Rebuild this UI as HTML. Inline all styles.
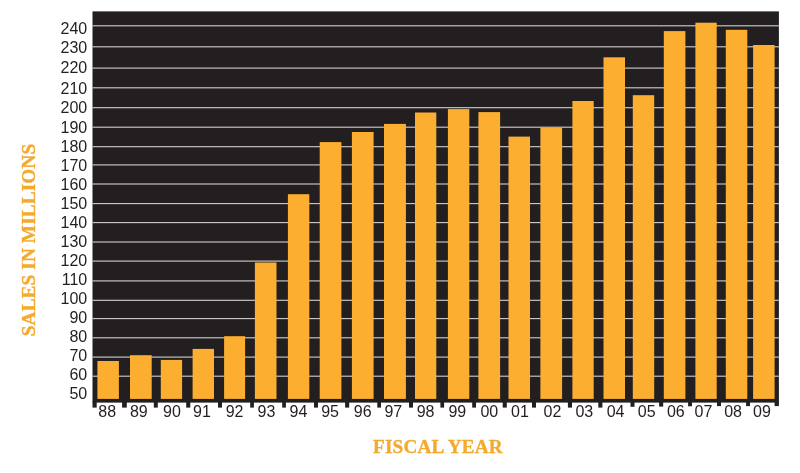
<!DOCTYPE html>
<html lang="en"><head><meta charset="utf-8"><title>Sales in Millions by Fiscal Year</title>
<style>html,body{margin:0;padding:0;background:#fff}body{width:800px;height:473px;overflow:hidden}svg{display:block}.n{font-family:"Liberation Sans",sans-serif;font-size:16px;fill:#231f20}.t{font-family:"Liberation Serif",serif;font-weight:bold;fill:#f4aa2e;stroke:#f4aa2e;stroke-width:0.35px;letter-spacing:0.17px}</style></head><body>
<svg width="800" height="473" viewBox="0 0 800 473">
<rect x="0" y="0" width="800" height="473" fill="#fff"/>
<rect x="92.5" y="11.4" width="686.4" height="391.2" fill="#231f20"/>
<rect x="92.5" y="401.6" width="4.2" height="6" fill="#231f20"/>
<rect x="122.1" y="401.6" width="4.7" height="6" fill="#231f20"/>
<rect x="153.8" y="401.6" width="4" height="6" fill="#231f20"/>
<rect x="186.2" y="401.6" width="4.1" height="6" fill="#231f20"/>
<rect x="218" y="401.6" width="4" height="6" fill="#231f20"/>
<rect x="250.2" y="401.6" width="3.7" height="6" fill="#231f20"/>
<rect x="282.2" y="401.6" width="3.7" height="6" fill="#231f20"/>
<rect x="314" y="401.6" width="4" height="6" fill="#231f20"/>
<rect x="345.1" y="401.6" width="4.1" height="6" fill="#231f20"/>
<rect x="377.3" y="401.6" width="3.7" height="6" fill="#231f20"/>
<rect x="409" y="401.6" width="4" height="6" fill="#231f20"/>
<rect x="440.4" y="401.6" width="3.7" height="6" fill="#231f20"/>
<rect x="472.2" y="401.6" width="3.8" height="6" fill="#231f20"/>
<rect x="502.7" y="401.6" width="4.1" height="6" fill="#231f20"/>
<rect x="532" y="401.6" width="4" height="6" fill="#231f20"/>
<rect x="567.9" y="401.6" width="4.1" height="6" fill="#231f20"/>
<rect x="598.3" y="401.6" width="4.1" height="6" fill="#231f20"/>
<rect x="630.5" y="401.6" width="4" height="5.2" fill="#231f20"/>
<rect x="659.1" y="401.6" width="4.1" height="5" fill="#231f20"/>
<rect x="688.1" y="401.6" width="3.9" height="4.7" fill="#231f20"/>
<rect x="717" y="401.6" width="4" height="4.5" fill="#231f20"/>
<rect x="746.1" y="401.6" width="3.9" height="4.5" fill="#231f20"/>
<rect x="774.6" y="401.6" width="4.3" height="4.5" fill="#231f20"/>
<rect x="92.5" y="25.25" width="686.4" height="1.1" fill="#d0cecf"/>
<rect x="92.5" y="46.25" width="686.4" height="1.1" fill="#d0cecf"/>
<rect x="92.5" y="67.55" width="686.4" height="1.1" fill="#d0cecf"/>
<rect x="92.5" y="87.25" width="686.4" height="1.1" fill="#d0cecf"/>
<rect x="92.5" y="107.15" width="686.4" height="1.1" fill="#d0cecf"/>
<rect x="92.5" y="126.65" width="686.4" height="1.1" fill="#d0cecf"/>
<rect x="92.5" y="146.15" width="686.4" height="1.1" fill="#d0cecf"/>
<rect x="92.5" y="164.35" width="686.4" height="1.1" fill="#d0cecf"/>
<rect x="92.5" y="183.45" width="686.4" height="1.1" fill="#d0cecf"/>
<rect x="92.5" y="203.05" width="686.4" height="1.1" fill="#d0cecf"/>
<rect x="92.5" y="222.05" width="686.4" height="1.1" fill="#d0cecf"/>
<rect x="92.5" y="241.45" width="686.4" height="1.1" fill="#d0cecf"/>
<rect x="92.5" y="260.55" width="686.4" height="1.1" fill="#d0cecf"/>
<rect x="92.5" y="280.35" width="686.4" height="1.1" fill="#d0cecf"/>
<rect x="92.5" y="299.75" width="686.4" height="1.1" fill="#d0cecf"/>
<rect x="92.5" y="318.05" width="686.4" height="1.1" fill="#d0cecf"/>
<rect x="92.5" y="337.25" width="686.4" height="1.1" fill="#d0cecf"/>
<rect x="92.5" y="356.55" width="686.4" height="1.1" fill="#d0cecf"/>
<rect x="92.5" y="375.65" width="686.4" height="1.1" fill="#d0cecf"/>
<rect x="97.4" y="361" width="21.5" height="37.9" fill="#fbae30"/>
<rect x="130" y="355.2" width="21.7" height="43.7" fill="#fbae30"/>
<rect x="160.8" y="359.9" width="21.3" height="39" fill="#fbae30"/>
<rect x="192.6" y="348.9" width="21.4" height="50" fill="#fbae30"/>
<rect x="224.1" y="336.2" width="21" height="62.7" fill="#fbae30"/>
<rect x="254.9" y="262.5" width="21.6" height="136.4" fill="#fbae30"/>
<rect x="287.9" y="194.2" width="21.4" height="204.7" fill="#fbae30"/>
<rect x="319.7" y="142.1" width="21.7" height="256.8" fill="#fbae30"/>
<rect x="351.9" y="132" width="21.7" height="266.9" fill="#fbae30"/>
<rect x="384" y="123.9" width="21.9" height="275" fill="#fbae30"/>
<rect x="415" y="112.5" width="21.3" height="286.4" fill="#fbae30"/>
<rect x="447.9" y="109.1" width="21.4" height="289.8" fill="#fbae30"/>
<rect x="478.4" y="112.1" width="21.7" height="286.8" fill="#fbae30"/>
<rect x="508.5" y="136.6" width="21.5" height="262.3" fill="#fbae30"/>
<rect x="540.4" y="127.6" width="21.7" height="271.3" fill="#fbae30"/>
<rect x="572.4" y="101" width="21.3" height="297.9" fill="#fbae30"/>
<rect x="603.5" y="57.3" width="21.5" height="341.6" fill="#fbae30"/>
<rect x="632.8" y="95.2" width="21.4" height="303.7" fill="#fbae30"/>
<rect x="663.8" y="31.1" width="21.6" height="367.8" fill="#fbae30"/>
<rect x="695.4" y="22.7" width="21.3" height="376.2" fill="#fbae30"/>
<rect x="725.8" y="29.8" width="21.5" height="369.1" fill="#fbae30"/>
<rect x="753.1" y="45" width="21.5" height="353.9" fill="#fbae30"/>
<text class="n" x="87.2" y="33.8" text-anchor="end">240</text>
<text class="n" x="87.2" y="53.3" text-anchor="end">230</text>
<text class="n" x="87.2" y="73.4" text-anchor="end">220</text>
<text class="n" x="87.2" y="93.9" text-anchor="end">210</text>
<text class="n" x="87.2" y="113.4" text-anchor="end">200</text>
<text class="n" x="87.2" y="133.3" text-anchor="end">190</text>
<text class="n" x="87.2" y="152.2" text-anchor="end">180</text>
<text class="n" x="87.2" y="171.2" text-anchor="end">170</text>
<text class="n" x="87.2" y="190.3" text-anchor="end">160</text>
<text class="n" x="87.2" y="209.3" text-anchor="end">150</text>
<text class="n" x="87.2" y="228.2" text-anchor="end">140</text>
<text class="n" x="87.2" y="247.2" text-anchor="end">130</text>
<text class="n" x="87.2" y="266.1" text-anchor="end">120</text>
<text class="n" x="87.2" y="285" text-anchor="end">110</text>
<text class="n" x="87.2" y="304" text-anchor="end">100</text>
<text class="n" x="87.2" y="322.9" text-anchor="end">90</text>
<text class="n" x="87.2" y="341.6" text-anchor="end">80</text>
<text class="n" x="87.2" y="360.7" text-anchor="end">70</text>
<text class="n" x="87.2" y="379.6" text-anchor="end">60</text>
<text class="n" x="87.2" y="398.6" text-anchor="end">50</text>
<text class="n" x="107.2" y="417.1" text-anchor="middle">88</text>
<text class="n" x="138.8" y="417.1" text-anchor="middle">89</text>
<text class="n" x="172" y="417.1" text-anchor="middle">90</text>
<text class="n" x="201.95" y="417.1" text-anchor="middle">91</text>
<text class="n" x="234.6" y="417.1" text-anchor="middle">92</text>
<text class="n" x="266.4" y="417.1" text-anchor="middle">93</text>
<text class="n" x="298.45" y="417.1" text-anchor="middle">94</text>
<text class="n" x="330.05" y="417.1" text-anchor="middle">95</text>
<text class="n" x="362.7" y="417.1" text-anchor="middle">96</text>
<text class="n" x="393.35" y="417.1" text-anchor="middle">97</text>
<text class="n" x="425.55" y="417.1" text-anchor="middle">98</text>
<text class="n" x="457.35" y="417.1" text-anchor="middle">99</text>
<text class="n" x="489.3" y="417.1" text-anchor="middle">00</text>
<text class="n" x="519.95" y="417.1" text-anchor="middle">01</text>
<text class="n" x="552.5" y="417.1" text-anchor="middle">02</text>
<text class="n" x="584.3" y="417.1" text-anchor="middle">03</text>
<text class="n" x="615.55" y="417.1" text-anchor="middle">04</text>
<text class="n" x="646.75" y="417.1" text-anchor="middle">05</text>
<text class="n" x="675.85" y="417.1" text-anchor="middle">06</text>
<text class="n" x="703.45" y="417.1" text-anchor="middle">07</text>
<text class="n" x="733.05" y="417.1" text-anchor="middle">08</text>
<text class="n" x="761.95" y="417.1" text-anchor="middle">09</text>
<text class="t" id="xt" x="437.9" y="453.3" text-anchor="middle" font-size="19.2">FISCAL YEAR</text>
<text class="t" id="yt" transform="translate(35.4 240) rotate(-90)" text-anchor="middle" font-size="19.3" style="letter-spacing:0.1px">SALES IN MILLIONS</text>
</svg></body></html>
